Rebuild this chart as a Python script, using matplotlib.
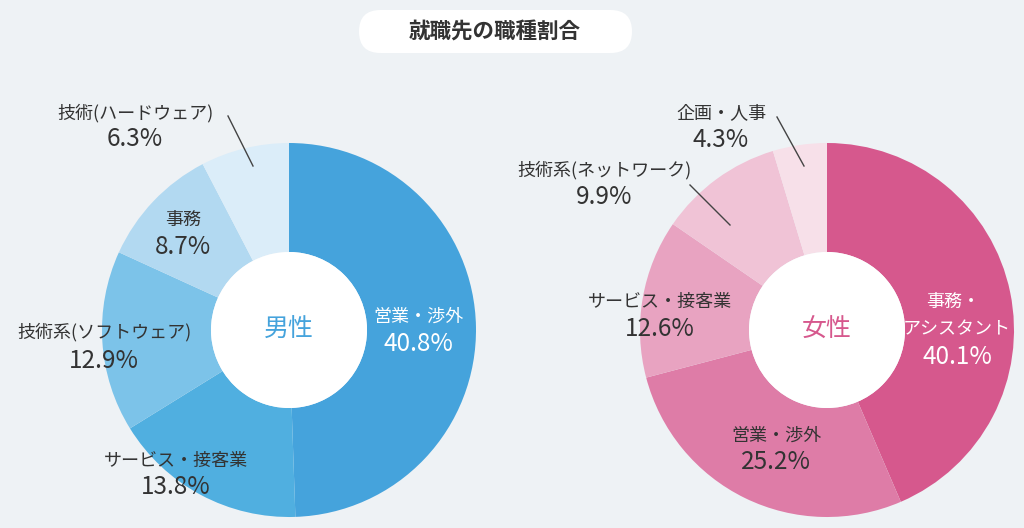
import matplotlib as mpl
mpl.use("Agg")
import matplotlib.pyplot as plt
from matplotlib.patches import Circle, FancyBboxPatch

plt.rcParams["font.family"] = ["Noto Sans CJK JP", "DejaVu Sans"]

W, H = 1024, 528
BG = "#eef2f5"
TXT = "#333333"

title = "就職先の職種割合"

male_name = "男性"
male_labels = ["営業・渉外", "サービス・接客業", "技術系(ソフトウェア)", "事務", "技術(ハードウェア)"]
male_values = [40.8, 13.8, 12.9, 8.7, 6.3]
male_colors = ["#45a3dc", "#50afe0", "#7cc3e9", "#b2d9f1", "#dbedf9"]

female_name = "女性"
female_labels = ["事務・\nアシスタント", "営業・渉外", "サービス・接客業", "技術系(ネットワーク)", "企画・人事"]
female_values = [40.1, 25.2, 12.6, 9.9, 4.3]
female_colors = ["#d6588d", "#de7ca7", "#e8a3c1", "#f0c3d6", "#f7e0e9"]

# layout in pixel coords (y measured from the top)
R_OUT, R_IN = 187, 78
male_center = (289, 330)
female_center = (827, 330)
# (label x, label y, pct y, white text?)
male_pos = [(418, 317, 344, True), (176, 461, 487, False), (104, 332, 361, False),
            (183, 220, 247, False), (135, 113, 139, False)]
female_pos = [(957, 316, 357, True), (776, 436, 462, False), (660, 302, 329, False),
              (604, 170, 197, False), (721, 113, 140, False)]
male_leaders = [((228, 116), (253, 166))]
female_leaders = [((777, 117), (804, 166)), ((690, 185), (730, 225))]


def Y(p):
    return H - p


def donut(ax, values, colors, center, name, name_col, labels, pos, leaders):
    cx, cy = center
    ax.pie(values, colors=colors, startangle=90, counterclock=False, radius=R_OUT,
           center=(cx, Y(cy)), frame=True,
           wedgeprops={"width": R_OUT - R_IN, "linewidth": 0})
    ax.add_patch(Circle((cx, Y(cy)), R_IN, facecolor="white", edgecolor="none", zorder=3))
    ax.text(cx, Y(cy), name, ha="center", va="center", fontsize=18, color=name_col, zorder=4)
    for lab, v, (x, ly, py, white) in zip(labels, values, pos):
        col = "white" if white else TXT
        if "\n" in lab:
            l1, l2 = lab.split("\n")
            ax.text(x - 4, Y(ly - 14), l1, ha="center", va="center", fontsize=13, color=col, zorder=4)
            ax.text(x, Y(ly + 13), l2, ha="center", va="center", fontsize=13, color=col, zorder=4)
        else:
            ax.text(x, Y(ly), lab, ha="center", va="center", fontsize=13, color=col, zorder=4)
        ax.text(x, Y(py), f"{v}%", ha="center", va="center", fontsize=17.5, color=col, zorder=4)
    for (x0, y0), (x1, y1) in leaders:
        ax.plot([x0, x1], [Y(y0), Y(y1)], color="#444444", lw=1.0, zorder=4)


fig = plt.figure(figsize=(W / 100, H / 100), dpi=100, facecolor=BG)
ax = fig.add_axes([0, 0, 1, 1])
ax.set_facecolor(BG)

donut(ax, male_values, male_colors, male_center, male_name, "#45a3dc",
      male_labels, male_pos, male_leaders)
donut(ax, female_values, female_colors, female_center, female_name, "#d6588d",
      female_labels, female_pos, female_leaders)

# title pill
ax.add_patch(FancyBboxPatch((359, Y(53)), 273, 43, boxstyle="round,pad=0,rounding_size=21.5",
                            facecolor="white", edgecolor="none", zorder=2))
ax.text(495, Y(32), title, ha="center", va="center", fontsize=15.5, fontweight="bold", color=TXT, zorder=3)

ax.set_xlim(0, W)
ax.set_ylim(0, H)
ax.set_aspect("equal")
ax.axis("off")

fig.savefig("out.png", dpi=100, facecolor=BG)
